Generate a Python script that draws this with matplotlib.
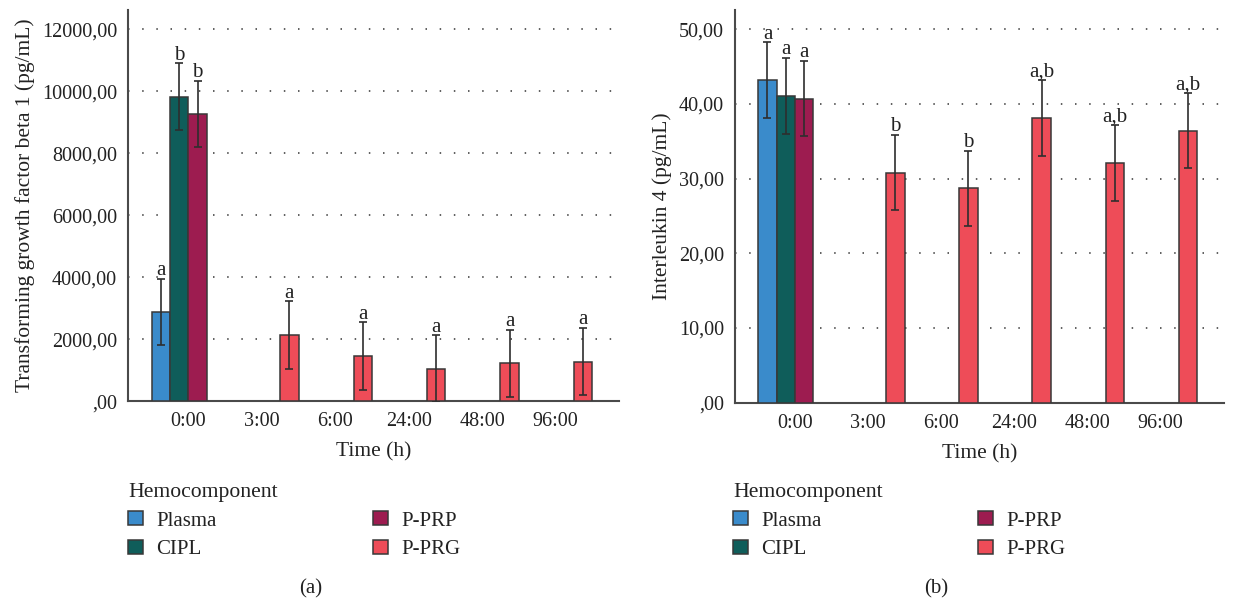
import numpy as np
import matplotlib
matplotlib.use("Agg")
import matplotlib.pyplot as plt
from matplotlib.patches import Patch
from matplotlib.ticker import FuncFormatter

plt.rcParams['font.family'] = ['Liberation Serif', 'DejaVu Serif']
plt.rcParams['font.size'] = 14.5

times = ['0:00', '3:00', '6:00', '24:00', '48:00', '96:00']
groups = ['Plasma', 'CIPL', 'P-PRP', 'P-PRG']
colors = ['#3a8bcb', '#0f5d5a', '#9d1c50', '#ee4c58']

# TGF-beta 1 (pg/mL), nan = not measured
tgf_plasma = [2890, np.nan, np.nan, np.nan, np.nan, np.nan]
tgf_cipl = [9826, np.nan, np.nan, np.nan, np.nan, np.nan]
tgf_pprp = [9268, np.nan, np.nan, np.nan, np.nan, np.nan]
tgf_pprg = [np.nan, 2129, 1455, 1050, 1226, 1280]
tgf_err_plasma = [1065, 0, 0, 0, 0, 0]
tgf_err_cipl = [1077, 0, 0, 0, 0, 0]
tgf_err_pprp = [1074, 0, 0, 0, 0, 0]
tgf_err_pprg = [0, 1100, 1095, 1085, 1090, 1088]
tgf_letters_plasma = ['a', '', '', '', '', '']
tgf_letters_cipl = ['b', '', '', '', '', '']
tgf_letters_pprp = ['b', '', '', '', '', '']
tgf_letters_pprg = ['', 'a', 'a', 'a', 'a', 'a']

# Interleukin 4 (pg/mL)
il4_plasma = [43.2, np.nan, np.nan, np.nan, np.nan, np.nan]
il4_cipl = [41.1, np.nan, np.nan, np.nan, np.nan, np.nan]
il4_pprp = [40.7, np.nan, np.nan, np.nan, np.nan, np.nan]
il4_pprg = [np.nan, 30.8, 28.7, 38.1, 32.1, 36.4]
il4_err_plasma = [5.05, 0, 0, 0, 0, 0]
il4_err_cipl = [5.1, 0, 0, 0, 0, 0]
il4_err_pprp = [5.05, 0, 0, 0, 0, 0]
il4_err_pprg = [0, 5.05, 5.05, 5.05, 5.1, 5.0]
il4_letters_plasma = ['a', '', '', '', '', '']
il4_letters_cipl = ['a', '', '', '', '', '']
il4_letters_pprp = ['a', '', '', '', '', '']
il4_letters_pprg = ['', 'b', 'b', 'a,b', 'a,b', 'a,b']

TXT = '#222222'


def fmt(v, pos):
    if v == 0:
        return ',00'
    return ('%.2f' % v).replace('.', ',')


def draw_panel(ax, vals, errs, letters, ymax, yticks, ylabel):
    x = np.arange(len(times))
    w = 0.25
    for k in range(len(groups)):
        xs = x + (k - 1.5) * w
        v = np.array(vals[k], dtype=float)
        e = np.array(errs[k], dtype=float)
        ok = ~np.isnan(v)
        ax.bar(xs[ok], v[ok], width=w, color=colors[k], edgecolor='#383838',
               linewidth=1.1, zorder=3)
        ax.errorbar(xs[ok], v[ok], yerr=e[ok], fmt='none', ecolor='#2e2e2e',
                    elinewidth=1.2, capsize=3, capthick=1.2, zorder=4)
        for i in np.where(ok)[0]:
            if letters[k][i]:
                ax.annotate(letters[k][i], (xs[i], v[i] + e[i]),
                            xytext=(0, 2.5), textcoords='offset points',
                            ha='center', va='baseline', fontsize=15,
                            color=TXT)
    ax.set_xlim(-0.82, 5.87)
    ax.set_ylim(0, ymax)
    ax.set_yticks(yticks)
    ax.yaxis.set_major_formatter(FuncFormatter(fmt))
    ax.set_xticks(x)
    ax.set_xticklabels(times)
    ax.tick_params(axis='both', length=0, colors=TXT, labelsize=14.5)
    ax.tick_params(axis='y', pad=8)
    ax.tick_params(axis='x', pad=8)
    ax.grid(axis='y', color='#444444', linestyle=(0, (0.9, 7.6)), linewidth=1.2, zorder=0)
    for s in ['top', 'right']:
        ax.spines[s].set_visible(False)
    for s in ['left', 'bottom']:
        ax.spines[s].set_color('#4a4a4a')
        ax.spines[s].set_linewidth(1.5)
    ax.set_xlabel('Time (h)', fontsize=15.5, color=TXT, labelpad=8)
    ax.set_ylabel(ylabel, fontsize=15.5, color=TXT, labelpad=5)


fig = plt.figure(figsize=(12.44, 5.99), dpi=100)
ax1 = fig.add_axes([0.1031, 0.330, 0.3947, 0.6533])
ax2 = fig.add_axes([0.5908, 0.3277, 0.3931, 0.6556])

draw_panel(ax1,
           [tgf_plasma, tgf_cipl, tgf_pprp, tgf_pprg],
           [tgf_err_plasma, tgf_err_cipl, tgf_err_pprp, tgf_err_pprg],
           [tgf_letters_plasma, tgf_letters_cipl, tgf_letters_pprp, tgf_letters_pprg],
           12620, np.arange(0, 12001, 2000),
           'Transforming growth factor beta 1 (pg/mL)')
draw_panel(ax2,
           [il4_plasma, il4_cipl, il4_pprp, il4_pprg],
           [il4_err_plasma, il4_err_cipl, il4_err_pprp, il4_err_pprg],
           [il4_letters_plasma, il4_letters_cipl, il4_letters_pprp, il4_letters_pprg],
           52.57, np.arange(0, 51, 10),
           'Interleukin 4 (pg/mL)')

handles = [Patch(facecolor=c, edgecolor='#383838', linewidth=1.1) for c in colors]
for left_px in [128, 733]:
    leg = fig.legend(handles, groups, title='Hemocomponent', ncol=2,
                     loc='upper left',
                     bbox_to_anchor=(left_px / 1244, 1 - 483 / 599),
                     frameon=False, fontsize=15, title_fontsize=15.6,
                     handlelength=0.72, handleheight=0.63, handletextpad=0.63,
                     columnspacing=7.5, labelspacing=0.45, borderpad=0,
                     borderaxespad=0, alignment='left')
    for t in leg.get_texts():
        t.set_color(TXT)
    leg.get_title().set_color(TXT)

fig.text(311 / 1244, 1 - 589 / 599, '(a)', ha='center', va='center', fontsize=15, color=TXT)
fig.text(936 / 1244, 1 - 589 / 599, '(b)', ha='center', va='center', fontsize=15, color=TXT)

fig.savefig('out.png', dpi=100)
